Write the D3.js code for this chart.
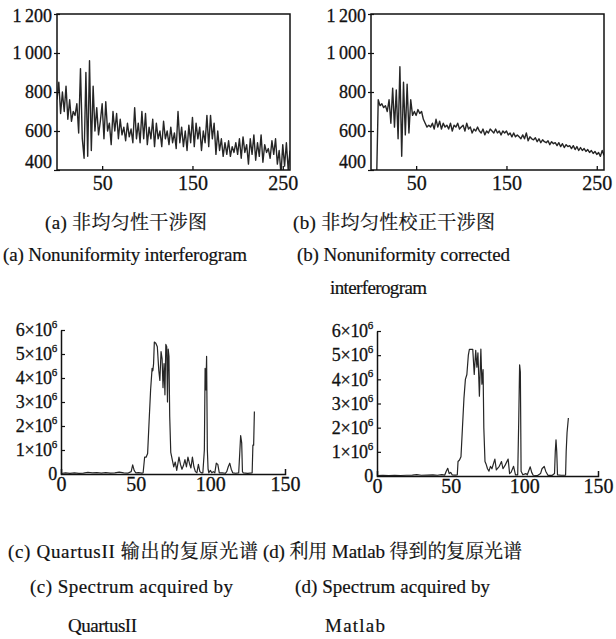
<!DOCTYPE html>
<html><head><meta charset="utf-8">
<script src="https://cdn.jsdelivr.net/npm/d3@7"></script>
<style>
body{margin:0;background:#fff}
svg{display:block}
text{font-family:"Liberation Serif","Times New Roman",serif;fill:#111}
.cjk{font-family:"Liberation Serif","Noto Serif CJK SC","Noto Sans CJK SC",serif}
</style></head><body>
<svg id="c" width="616" height="639"></svg>
<script>
// ---------- data ----------
const interfXTicks = [50, 150, 250];
const interfYTicks = [400, 600, 800, 1000, 1200];
const specXTicks = [0, 50, 100, 150];
const specYTicks = [0, 1, 2, 3, 4, 5, 6];   // ×10^6

// (a) nonuniformity interferogram, sample index 0,2,4,...
const aStart = 0, aStep = 2;
const aValues = [760,850,690,800,700,830,660,760,650,700,680,740,590,920,560,460,900,470,960,500,
830,600,720,580,650,740,560,750,600,640,530,700,600,690,560,660,580,620,550,640,
570,610,540,720,560,640,540,700,560,690,530,620,560,660,520,640,560,600,520,650,
560,600,530,620,540,590,510,700,540,620,520,600,500,630,540,670,520,640,560,620,
500,600,540,680,520,680,560,640,480,600,500,560,470,540,480,550,470,520,490,540,
480,560,460,570,490,530,430,560,480,580,450,540,470,580,440,530,490,510,460,550,
480,560,430,500,380,530,420,540,400,500];

// (b) corrected interferogram, sample index 6,8,10,...
const bStart = 6, bStep = 2;
const bValues = [300,760,730,740,720,730,700,760,640,820,620,810,560,930,470,850,580,840,590,760,
680,700,680,710,690,700,660,640,620,630,620,640,610,660,620,650,610,640,620,630,
610,640,600,630,620,640,610,620,630,600,640,610,620,590,610,600,620,600,590,610,
580,600,590,610,600,590,610,590,600,580,600,590,600,580,590,570,590,570,580,570,
560,580,560,590,550,570,560,555,565,545,560,540,555,545,540,550,530,545,535,540,
525,540,520,535,515,530,520,525,510,525,505,520,500,515,500,510,495,505,490,500,
485,495,480,490,470,500,475];

// (c) spectrum by QuartusII: [bin, value ×10^6]
const cSpectrum = [[0,0.02],[3,0.05],[6,0.03],[9,0.05],[12,0.03],[15,0.04],[18,0.07],[21,0.05],[24,0.06],[27,0.04],
[30,0.06],[33,0.04],[36,0.05],[39,0.08],[42,0.05],[45,0.04],[47,0.1],[48,0.38],[49,0.15],[50,0.05],
[52,0.06],[54,0.04],[55,0.05],[56,0.7],[57,0.7],[58,0.85],[59,2.2],[60,3.5],[61,4.4],[61.5,4.3],
[62,4.6],[62.5,5.5],[63.5,5.45],[64.5,5.3],[65.5,4.3],[66.2,3.9],[67,5.1],[67.7,4.8],[68.3,3.6],[69,4.6],
[69.6,3.3],[70.2,5.4],[70.8,5.3],[71.3,3.0],[71.8,5.2],[72.3,4.9],[72.8,2.4],[73.5,0.9],[74.5,0.6],[75.5,0.3],
[76.5,0.5],[77.5,0.15],[79,0.7],[80,0.4],[81,0.2],[82,0.35],[83,0.6],[84,0.3],[85,0.7],[86,0.45],
[87,0.25],[88,0.7],[89,0.3],[90,0.1],[91,0.05],[92,0.4],[93,0.1],[94,0.05],[95,0.05],[96,1.0],
[96.5,4.4],[97,3.5],[97.5,4.9],[98,1.0],[98.5,0.2],[99,0.05],[100,0.15],[101,0.05],[102,0.1],[103,0.05],
[104,0.45],[105,0.4],[106,0.05],[108,0.05],[110,0.03],[111,0.1],[112,0.3],[113,0.45],[114,0.2],[115,0.05],
[117,0.03],[119,0.05],[119.8,1.0],[120.3,1.6],[121,1.3],[121.5,0.1],[122,0.05],[125,0.03],[128,0.05],[128.5,1.2],
[129,1.2],[129.5,2.6]];

// (d) spectrum by Matlab: [bin, value ×10^6]
const dSpectrum = [[0,0.02],[4,0.03],[8,0.02],[12,0.03],[16,0.02],[20,0.03],[24,0.04],[27,0.06],[30,0.03],[34,0.04],
[38,0.05],[41,0.03],[44,0.06],[46,0.04],[47,0.2],[48,0.32],[49,0.1],[50,0.15],[51,0.05],[53,0.04],
[54.5,0.05],[55,0.6],[56,0.66],[57,0.8],[58,2.0],[59,3.2],[60,4.0],[61,4.2],[62,5.0],[62.7,5.24],
[65,5.24],[66,4.2],[67,5.2],[67.8,4.5],[68.5,5.1],[69.5,3.3],[70.5,5.25],[71.2,3.8],[72,4.4],[72.5,2.0],
[73.3,0.6],[74,0.5],[75,0.3],[76,0.2],[77,0.4],[78,0.3],[80,0.7],[81,0.25],[83,0.4],[84.5,0.6],
[85.5,0.3],[87,0.45],[89,0.7],[90,0.1],[91,0.15],[92.7,0.4],[94,0.05],[95.5,0.05],[96.2,2.3],[96.8,4.6],
[97.3,4.3],[97.8,0.2],[99,0.05],[101,0.1],[102,0.05],[104,0.38],[105,0.15],[106,0.03],[109,0.02],[111,0.1],
[112,0.3],[113.5,0.4],[114.5,0.2],[116,0.03],[119,0.03],[120.5,0.1],[121,1.0],[121.5,1.5],[122,1.0],[122.5,0.05],
[125,0.03],[128,0.04],[128.4,1.0],[129,1.8],[129.9,2.4]];

const captions = [
  {t:"(a) 非均匀性干涉图", x:45, y:229, w:162, cjk:true},
  {t:"(b) 非均匀性校正干涉图", x:293, y:229, w:202, cjk:true},
  {t:"(a) Nonuniformity interferogram", x:3, y:261, w:244},
  {t:"(b) Nonuniformity corrected", x:297, y:261, w:213},
  {t:"interferogram", x:330, y:294, w:97},
  {t:"(c) QuartusII 输出的复原光谱", x:8, y:558, w:250, cjk:true},
  {t:"(d) 利用 Matlab 得到的复原光谱", x:263, y:558, w:259, cjk:true},
  {t:"(c) Spectrum acquired by", x:30, y:593, w:203},
  {t:"(d) Spectrum acquired by", x:295, y:593, w:195},
  {t:"QuartusII", x:68, y:632, w:69},
  {t:"Matlab", x:325, y:632, w:60}
];

// ---------- drawing ----------
const svg = d3.select("#c");
svg.append("rect").attr("width",616).attr("height",639).attr("fill","#fff");
const defs = svg.append("defs");
const LINE = "#262626";

function boldish(sel, w){ sel.attr("stroke","#111").attr("stroke-width",w).attr("paint-order","stroke"); }

function interferogram(id, box, start, step, values){
  const x = d3.scaleLinear().domain([0,258]).range([box.l, box.r]);
  const y = d3.scaleLinear().domain([400,1200]).range([box.b, box.t]);
  defs.append("clipPath").attr("id",id).append("rect")
    .attr("x",box.l).attr("y",box.t).attr("width",box.r-box.l).attr("height",box.b-box.t);
  const pts = values.map((v,i)=>[start+i*step, v]);
  svg.append("path").datum(pts).attr("clip-path",`url(#${id})`)
    .attr("fill","none").attr("stroke",LINE).attr("stroke-width",1.4).attr("stroke-linejoin","round")
    .attr("d", d3.line().x(d=>x(d[0])).y(d=>y(d[1])));
  svg.append("rect").attr("x",box.l).attr("y",box.t).attr("width",box.r-box.l).attr("height",box.b-box.t)
    .attr("fill","none").attr("stroke","#111").attr("stroke-width",1.5);
  const gx = svg.append("g").attr("transform",`translate(0,${box.b})`)
    .call(d3.axisBottom(x).tickValues(interfXTicks).tickSizeInner(-4).tickSizeOuter(0).tickPadding(6));
  gx.select(".domain").remove();
  gx.selectAll("line").attr("stroke","#111").attr("stroke-width",1.3);
  gx.selectAll("text").attr("font-size",20).attr("fill","#111").call(boldish,0.3);
  const gy = svg.append("g").attr("transform",`translate(${box.l},0)`)
    .call(d3.axisLeft(y).tickValues(interfYTicks).tickSizeInner(3).tickSizeOuter(0).tickPadding(2)
      .tickFormat(d => d>=1000 ? "1\u2009"+String(d).slice(1) : String(d)));
  gy.select(".domain").remove();
  gy.selectAll("line").attr("stroke","#111").attr("stroke-width",1.2).attr("x2",-3).attr("x1",3);
  gy.selectAll("text").attr("font-size",18).attr("fill","#111")
    .call(boldish,0.3)
    .attr("dy", d => d===1200 ? "0.42em" : d===400 ? "-0.12em" : "0.3em");
}

function spectrum(id, box, data){
  const x = d3.scaleLinear().domain([0,150]).range([box.l, box.r]);
  const y = d3.scaleLinear().domain([0,6]).range([box.b, box.t]);
  svg.append("path").datum(data)
    .attr("fill","none").attr("stroke",LINE).attr("stroke-width",1.2).attr("stroke-linejoin","round")
    .attr("d", d3.line().x(d=>x(d[0])).y(d=>y(d[1])));
  const gx = svg.append("g").attr("transform",`translate(0,${box.b})`)
    .call(d3.axisBottom(x).tickValues(specXTicks).tickSizeInner(0).tickSizeOuter(-5).tickPadding(3));
  gx.select(".domain").attr("stroke","#111").attr("stroke-width",1.5);
  gx.selectAll(".tick line").remove();
  gx.selectAll("text").attr("font-size",20).attr("fill","#111").call(boldish,0.3);
  const gy = svg.append("g").attr("transform",`translate(${box.l},0)`)
    .call(d3.axisLeft(y).tickValues(specYTicks).tickSizeInner(-4).tickSizeOuter(0).tickPadding(4));
  gy.select(".domain").attr("stroke","#111").attr("stroke-width",1.5);
  gy.selectAll(".tick line").attr("stroke","#111").attr("stroke-width",1.2)
    .filter(d=>d===0).remove();
  gy.selectAll("text").attr("font-size",18).attr("fill","#111").attr("dy","0.32em")
    .attr("letter-spacing","-0.3").call(boldish,0.3).each(function(d){
    const t = d3.select(this);
    t.text(null);
    if (d===0){ t.append("tspan").text("0"); return; }
    t.append("tspan").text(d+"×10");
    t.append("tspan").attr("font-size",11).attr("dy","-0.75em").text("6");
  });
}

interferogram("clipA", {l:57, r:290, t:14, b:170}, aStart, aStep, aValues);
interferogram("clipB", {l:371, r:604, t:14, b:170}, bStart, bStep, bValues);
spectrum("specC", {l:61, r:285, t:330, b:474}, cSpectrum);
spectrum("specD", {l:377, r:598, t:331, b:476}, dSpectrum);

svg.append("g").selectAll("text").data(captions).join("text")
  .attr("x", d=>d.x).attr("y", d=>d.y)
  .attr("font-size", 19)
  .attr("class", d=>d.cjk ? "cjk" : null)
  .attr("textLength", d=>d.w).attr("lengthAdjust","spacing")
  .attr("stroke","#111").attr("stroke-width",0.2)
  .text(d=>d.t);
</script>
</body></html>
